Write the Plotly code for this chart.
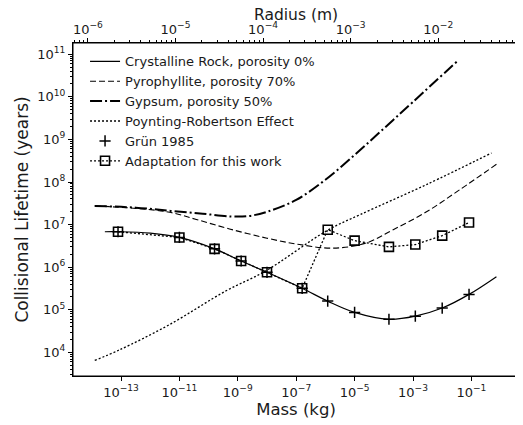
import numpy as np
import plotly.graph_objects as go

# Grün 1985 points and the adapted points (mass in kg, lifetime in years)
grun_mass = [7.9e-14, 1e-11, 1.6e-10, 1.3e-9, 1e-8, 1.6e-7,
             1.2e-6, 1e-5, 1.5e-4, 1.2e-3, 1e-2, 8.3e-2]
grun_life = [6.8e6, 5.0e6, 2.7e6, 1.4e6, 7.6e5, 3.2e5,
             1.6e5, 8.7e4, 6.0e4, 7.1e4, 1.1e5, 2.3e5]
adapt_life = [6.8e6, 5.0e6, 2.7e6, 1.4e6, 7.6e5, 3.2e5,
              7.6e6, 4.2e6, 3.0e6, 3.4e6, 5.5e6, 1.12e7]

# Crystalline rock, porosity 0%
rock_mass = [2.8e-14, 7.9e-14, 1e-12, 1e-11, 1.6e-10, 1.3e-9, 1e-8, 1.6e-7,
             1.2e-6, 1e-5, 1.5e-4, 1.2e-3, 1e-2, 8.3e-2, 0.72]
rock_life = [6.8e6, 6.8e6, 6.3e6, 5.0e6, 2.7e6, 1.4e6, 7.6e5, 3.2e5,
             1.6e5, 8.7e4, 6.0e4, 7.1e4, 1.1e5, 2.3e5, 6.0e5]

# Pyrophyllite, porosity 70%
pyro_mass = [1.26e-14, 3.2e-13, 4.6e-12, 3.8e-11, 5.2e-10, 1e-8, 1.3e-7,
             1.8e-6, 2.5e-5, 2.1e-4, 2.9e-3, 4e-2, 0.72]
pyro_life = [2.75e7, 2.4e7, 1.95e7, 1.32e7, 7.9e6, 4.8e6, 3.4e6,
             2.8e6, 3.7e6, 7.6e6, 2.0e7, 6.6e7, 2.6e8]

# Gypsum, porosity 50%
gyp_mass = [1.26e-14, 3.2e-13, 5e-12, 6.3e-11, 6.3e-10, 2.5e-9, 1e-8, 1e-7,
            1e-6, 1e-5, 1e-4, 1e-3, 3.7e-2]
gyp_life = [2.75e7, 2.5e7, 2.1e7, 1.8e7, 1.55e7, 1.6e7, 2.0e7, 3.8e7,
            1.13e8, 4.3e8, 1.8e9, 7.6e9, 7.4e10]

# Poynting-Robertson effect
pr_mass = [1.26e-14, 9e-14, 4.6e-12, 4e-10, 8.3e-9, 1.2e-6, 1.5e-5, 2.9e-3, 0.49]
pr_life = [6.5e3, 1.15e4, 4.5e4, 2.8e5, 7.9e5, 7.4e6, 1.7e7, 8.7e7, 4.8e8]

mass_ticks = [1e-13, 1e-11, 1e-9, 1e-7, 1e-5, 1e-3, 1e-1]
radius_ticks = [1e-6, 1e-5, 1e-4, 1e-3, 1e-2]
life_ticks = [1e4, 1e5, 1e6, 1e7, 1e8, 1e9, 1e10, 1e11]

DENSITY = 1750.0  # kg/m^3, links the mass axis to the radius axis
MASS_RANGE = [-14.644, 0.630]
LIFE_RANGE = [3.446, 11.263]


def pow_label(v):
    e = int(round(np.log10(v)))
    return "10<sup>%s</sup>" % str(e).replace("-", "\u2212")


def minor_vals(lo, hi):
    out = []
    for d in range(int(np.floor(lo)), int(np.ceil(hi)) + 1):
        for k in range(2, 10):
            out.append(k * 10.0 ** d)
    return out


k = np.log10(4.0 / 3.0 * np.pi * DENSITY)
radius_range = [(MASS_RANGE[0] - k) / 3, (MASS_RANGE[1] - k) / 3]

fig = go.Figure()
fig.add_trace(go.Scatter(x=rock_mass, y=rock_life, mode="lines",
                         name="Crystalline Rock, porosity 0%",
                         line=dict(color="black", width=1.2, shape="spline")))
fig.add_trace(go.Scatter(x=pyro_mass, y=pyro_life, mode="lines",
                         name="Pyrophyllite, porosity 70%",
                         line=dict(color="black", width=1.1, shape="spline",
                                   dash="6px,3px")))
fig.add_trace(go.Scatter(x=gyp_mass, y=gyp_life, mode="lines",
                         name="Gypsum, porosity 50%",
                         line=dict(color="black", width=2, shape="spline",
                                   dash="12px,3px,2px,3px")))
fig.add_trace(go.Scatter(x=pr_mass, y=pr_life, mode="lines",
                         name="Poynting-Robertson Effect",
                         line=dict(color="black", width=1.3, shape="spline",
                                   dash="2px,2px")))
fig.add_trace(go.Scatter(x=grun_mass, y=grun_life, mode="markers",
                         name="Gr\u00fcn 1985",
                         marker=dict(symbol="cross-thin", size=8,
                                     line=dict(color="black", width=1.5))))
fig.add_trace(go.Scatter(x=grun_mass, y=adapt_life, mode="lines+markers",
                         name="Adaptation for this work",
                         line=dict(color="black", width=1.3, dash="2px,2px"),
                         marker=dict(symbol="square-open", size=9, color="black",
                                     line=dict(color="black", width=1.6))))
# invisible trace so the radius axis gets drawn
fig.add_trace(go.Scatter(x=[10 ** radius_range[0], 10 ** radius_range[1]],
                         y=[10 ** LIFE_RANGE[0]] * 2, xaxis="x2", mode="lines",
                         line=dict(width=0), opacity=0, showlegend=False,
                         hoverinfo="skip"))

# the page body adds an 8px offset, so the figure is 8px smaller each way
fig.update_layout(
    width=515, height=417,
    margin=dict(l=65, r=4, t=35, b=49),
    paper_bgcolor="white", plot_bgcolor="white",
    font=dict(family="DejaVu Sans", size=12, color="#1a1a1a"),
    showlegend=True,
    legend=dict(x=0.027, y=0.99, xanchor="left", yanchor="top",
                bgcolor="rgba(0,0,0,0)", font=dict(size=13),
                tracegroupgap=0),
    xaxis=dict(type="log", range=MASS_RANGE, showgrid=False, zeroline=False,
               showline=True, linecolor="black", linewidth=1, mirror=True,
               automargin=False,
               ticks="outside", ticklen=4, tickcolor="black",
               tickvals=mass_ticks, ticktext=[pow_label(v) for v in mass_ticks],
               tickfont=dict(size=13),
               title=dict(text="Mass (kg)", font=dict(size=16.5), standoff=3)),
    xaxis2=dict(type="log", range=radius_range, overlaying="x", side="top",
                anchor="y", showgrid=False, zeroline=False, showline=True,
                linecolor="black", linewidth=1, automargin=False,
                ticks="outside", ticklen=4, tickcolor="black",
                ticklabelstandoff=-1,
                tickvals=radius_ticks,
                ticktext=[pow_label(v) for v in radius_ticks],
                tickfont=dict(size=13),
                minor=dict(tickvals=minor_vals(-7, -1), ticks="outside",
                           ticklen=2, tickcolor="black", showgrid=False)),
    yaxis=dict(type="log", range=LIFE_RANGE, showgrid=False, zeroline=False,
               showline=True, linecolor="black", linewidth=1, mirror=True,
               automargin=False,
               ticks="outside", ticklen=4, tickcolor="black",
               tickvals=life_ticks, ticktext=[pow_label(v) for v in life_ticks],
               tickfont=dict(size=13),
               minor=dict(tickvals=minor_vals(3, 11), ticks="outside",
                          ticklen=2, tickcolor="black", showgrid=False),
               title=dict(text="Collisional Lifetime (years)",
                          font=dict(size=17), standoff=4)),
    shapes=[dict(type="rect", xref="paper", yref="paper", x0=0, x1=1, y0=0, y1=1,
                 line=dict(color="black", width=1), fillcolor="rgba(0,0,0,0)")],
    annotations=[dict(text="Radius (m)", xref="paper", yref="paper", x=0.5, y=1,
                      xanchor="center", yanchor="middle", yshift=28,
                      showarrow=False, font=dict(size=15.5))],
)

fig.write_html("out.html")
